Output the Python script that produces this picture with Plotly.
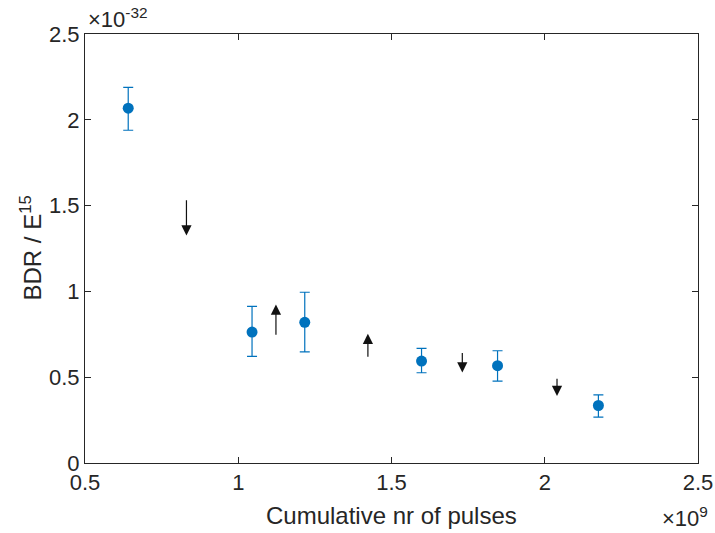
import plotly.graph_objects as go

# Data (x in units of 1e9 pulses, y in units of 1e-32)
x_vals = [0.641, 1.045, 1.217, 1.598, 1.846, 2.175]
y_vals = [2.068, 0.763, 0.820, 0.594, 0.567, 0.335]
err_hi = [2.189, 0.913, 0.995, 0.668, 0.654, 0.397]
err_lo = [1.939, 0.621, 0.648, 0.526, 0.477, 0.267]

arrow_x = [0.831, 1.123, 1.423, 1.731, 2.040]
arrow_tail = [1.54, 0.738, 0.611, 0.650, 0.50]
arrow_tip = [1.326, 0.923, 0.753, 0.527, 0.391]

x_ticks = [0.5, 1, 1.5, 2, 2.5]
y_ticks = [0, 0.5, 1, 1.5, 2, 2.5]

err_plus = [h - y for h, y in zip(err_hi, y_vals)]
err_minus = [y - l for l, y in zip(err_lo, y_vals)]

blue = "#0072BD"
axcol = "#262626"
font = "Liberation Sans, Arial, Helvetica, sans-serif"

W, H = 715, 533
L, R, T, B = 85, 17, 34, 70

fig = go.Figure()
fig.add_trace(go.Scatter(
    x=x_vals, y=y_vals, mode="markers",
    marker=dict(color=blue, size=11),
    error_y=dict(type="data", symmetric=False, array=err_plus, arrayminus=err_minus,
                 color=blue, thickness=1.2, width=5),
    showlegend=False,
))

annotations = []
for ax_, t, h in zip(arrow_x, arrow_tail, arrow_tip):
    annotations.append(dict(
        x=ax_, y=h, ax=ax_, ay=t, xref="x", yref="y", axref="x", ayref="y",
        showarrow=True, arrowhead=2, arrowsize=1.7, arrowwidth=1.2,
        arrowcolor="#111111", text="",
    ))

# exponent labels
annotations.append(dict(
    x=0, y=1, xref="paper", yref="paper", xanchor="left", yanchor="bottom",
    text="×10<sup>-32</sup>", showarrow=False, yshift=0, xshift=1,
    font=dict(family=font, size=22, color=axcol),
))
annotations.append(dict(
    x=1, y=0, xref="paper", yref="paper", xanchor="right", yanchor="middle",
    text="×10<sup>9</sup>", showarrow=False, yshift=-54, xshift=12,
    font=dict(family=font, size=22, color=axcol),
))
# axis titles
annotations.append(dict(
    x=0.5, y=0, xref="paper", yref="paper", xanchor="center", yanchor="middle",
    text="Cumulative nr of pulses", showarrow=False, yshift=-52,
    font=dict(family=font, size=24, color=axcol),
))
annotations.append(dict(
    x=0, y=0.5, xref="paper", yref="paper", xanchor="center", yanchor="middle",
    text="BDR / E<sup>15</sup>", showarrow=False, xshift=-55, textangle=-90,
    font=dict(family=font, size=24, color=axcol),
))

axis_common = dict(
    ticks="inside", ticklen=6, tickcolor=axcol, showline=True, linecolor=axcol,
    linewidth=1, mirror="allticks", showgrid=False, zeroline=False,
    tickfont=dict(family=font, size=22, color=axcol), automargin=False,
    ticklabeloverflow="allow",
)

fig.update_layout(
    width=W, height=H,
    margin=dict(l=L, r=R, t=T, b=B, pad=0),
    paper_bgcolor="white", plot_bgcolor="white",
    font=dict(family=font, size=22, color=axcol),
    annotations=annotations,
    xaxis=dict(range=[0.5, 2.5], tickvals=x_ticks,
               ticktext=[str(v) for v in x_ticks], **axis_common),
    yaxis=dict(range=[0, 2.5], tickvals=y_ticks,
               ticktext=[str(v) for v in y_ticks], **axis_common),
)

fig.write_html(
    "out.html",
    config={"displayModeBar": False},
    post_script="document.body.style.margin='0';document.body.style.overflow='hidden';",
)
